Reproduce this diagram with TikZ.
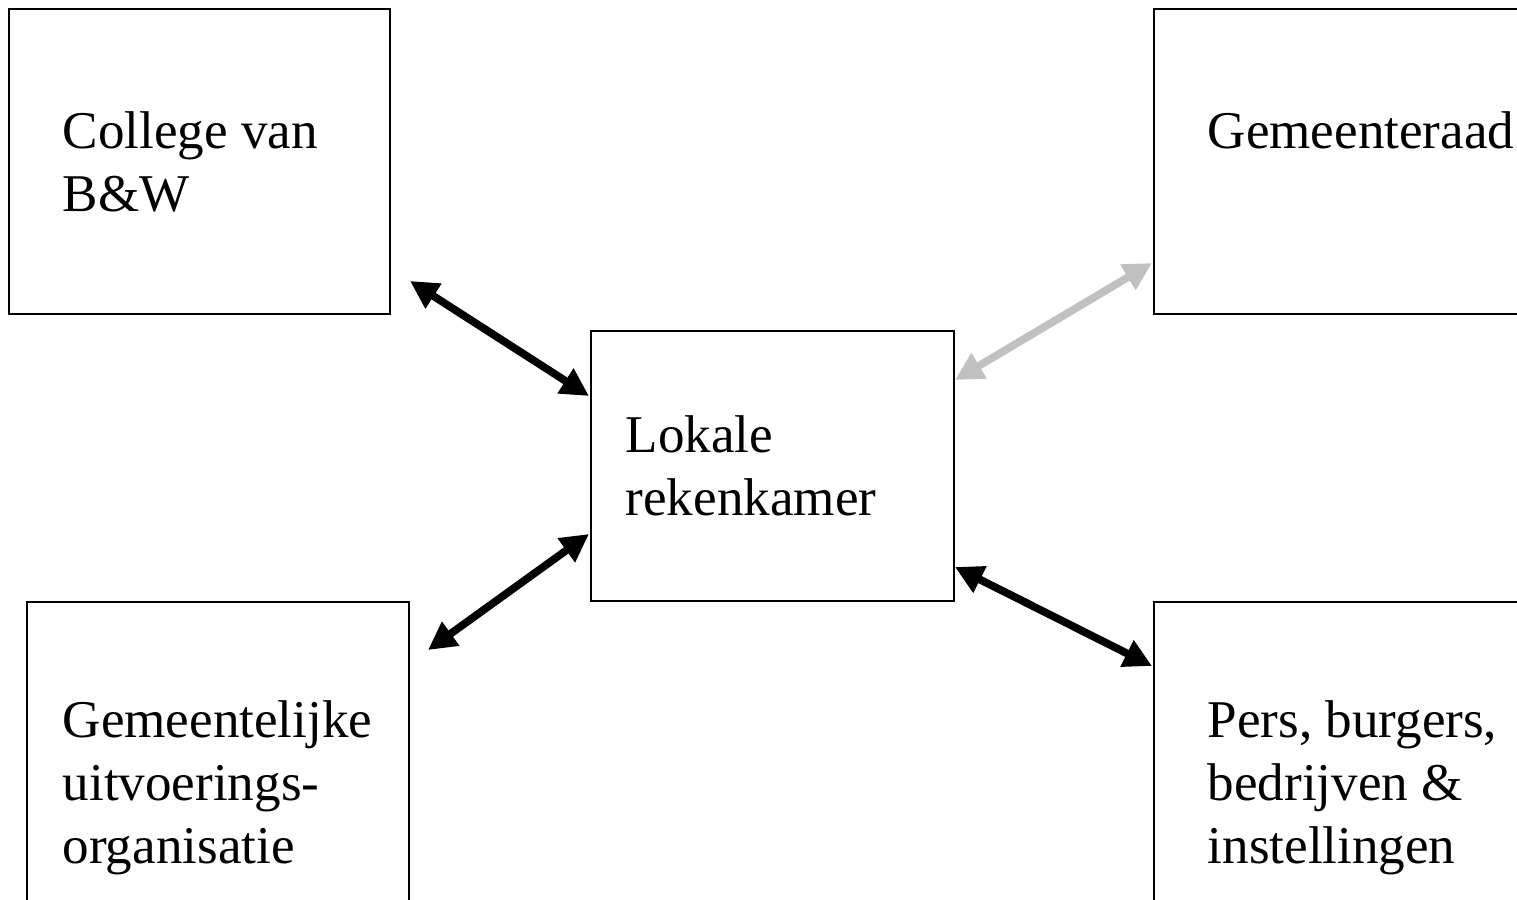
\documentclass[tikz,border=0pt]{standalone}
\usepackage{fontspec}
\setmainfont{Liberation Serif}
\usetikzlibrary{arrows.meta}
\definecolor{lightarr}{RGB}{192,192,192}
\tikzset{
  box/.style={draw=black, line width=0.6pt, rectangle, inner sep=0pt, anchor=north west},
  txt/.style={anchor=base west, inner sep=0pt, font=\fontsize{15.1pt}{18pt}\selectfont},
  arr/.style={line width=2.2pt, {Triangle[length=0.28cm,width=0.28cm]}-{Triangle[length=0.28cm,width=0.28cm]}},
}
\begin{document}
\begin{tikzpicture}[x=0.01cm,y=-0.01cm]
\useasboundingbox (0,0) rectangle (1517,900);
\clip (0,0) rectangle (1517,900);
% boxes
\node[box, minimum width=3.81cm, minimum height=3.05cm] (college) at (8,8) {};
\node[box, minimum width=3.80cm, minimum height=3.05cm] (raad) at (1153,8) {};
\node[box, minimum width=3.63cm, minimum height=2.70cm] (lokale) at (590,330) {};
\node[box, minimum width=3.82cm, minimum height=3.20cm] (uitv) at (26,601) {};
\node[box, minimum width=3.80cm, minimum height=3.20cm] (pers) at (1153,601) {};
% texts
\node[txt] (t1a) at (62,149) {College van};
\node[txt] (t1b) at (62,211) {B\&W};
\node[txt] (t2a) at (1207,149) {Gemeenteraad};
\node[txt] (t3a) at (625,452) {Lokale};
\node[txt] (t3b) at (625,515) {rekenkamer};
\node[txt] (t4a) at (62,737) {Gemeentelijke};
\node[txt] (t4b) at (62,800) {uitvoerings-};
\node[txt] (t4c) at (62,863) {organisatie};
\node[txt] (t5a) at (1207,737) {Pers, burgers,};
\node[txt] (t5b) at (1207,800) {bedrijven \&};
\node[txt] (t5c) at (1207,863) {instellingen};
% arrow ends
\coordinate (a1s) at (410,281);
\coordinate (a1e) at (589,396);
\coordinate (a2s) at (955,380);
\coordinate (a2e) at (1152,263);
\coordinate (a3s) at (428,650);
\coordinate (a3e) at (589,534);
\coordinate (a4s) at (955,567);
\coordinate (a4e) at (1152,666);
\draw[arr] (a1s) -- (a1e);
\draw[arr, draw=lightarr, fill=lightarr] (a2s) -- (a2e);
\draw[arr] (a3s) -- (a3e);
\draw[arr] (a4s) -- (a4e);
\end{tikzpicture}
\end{document}
